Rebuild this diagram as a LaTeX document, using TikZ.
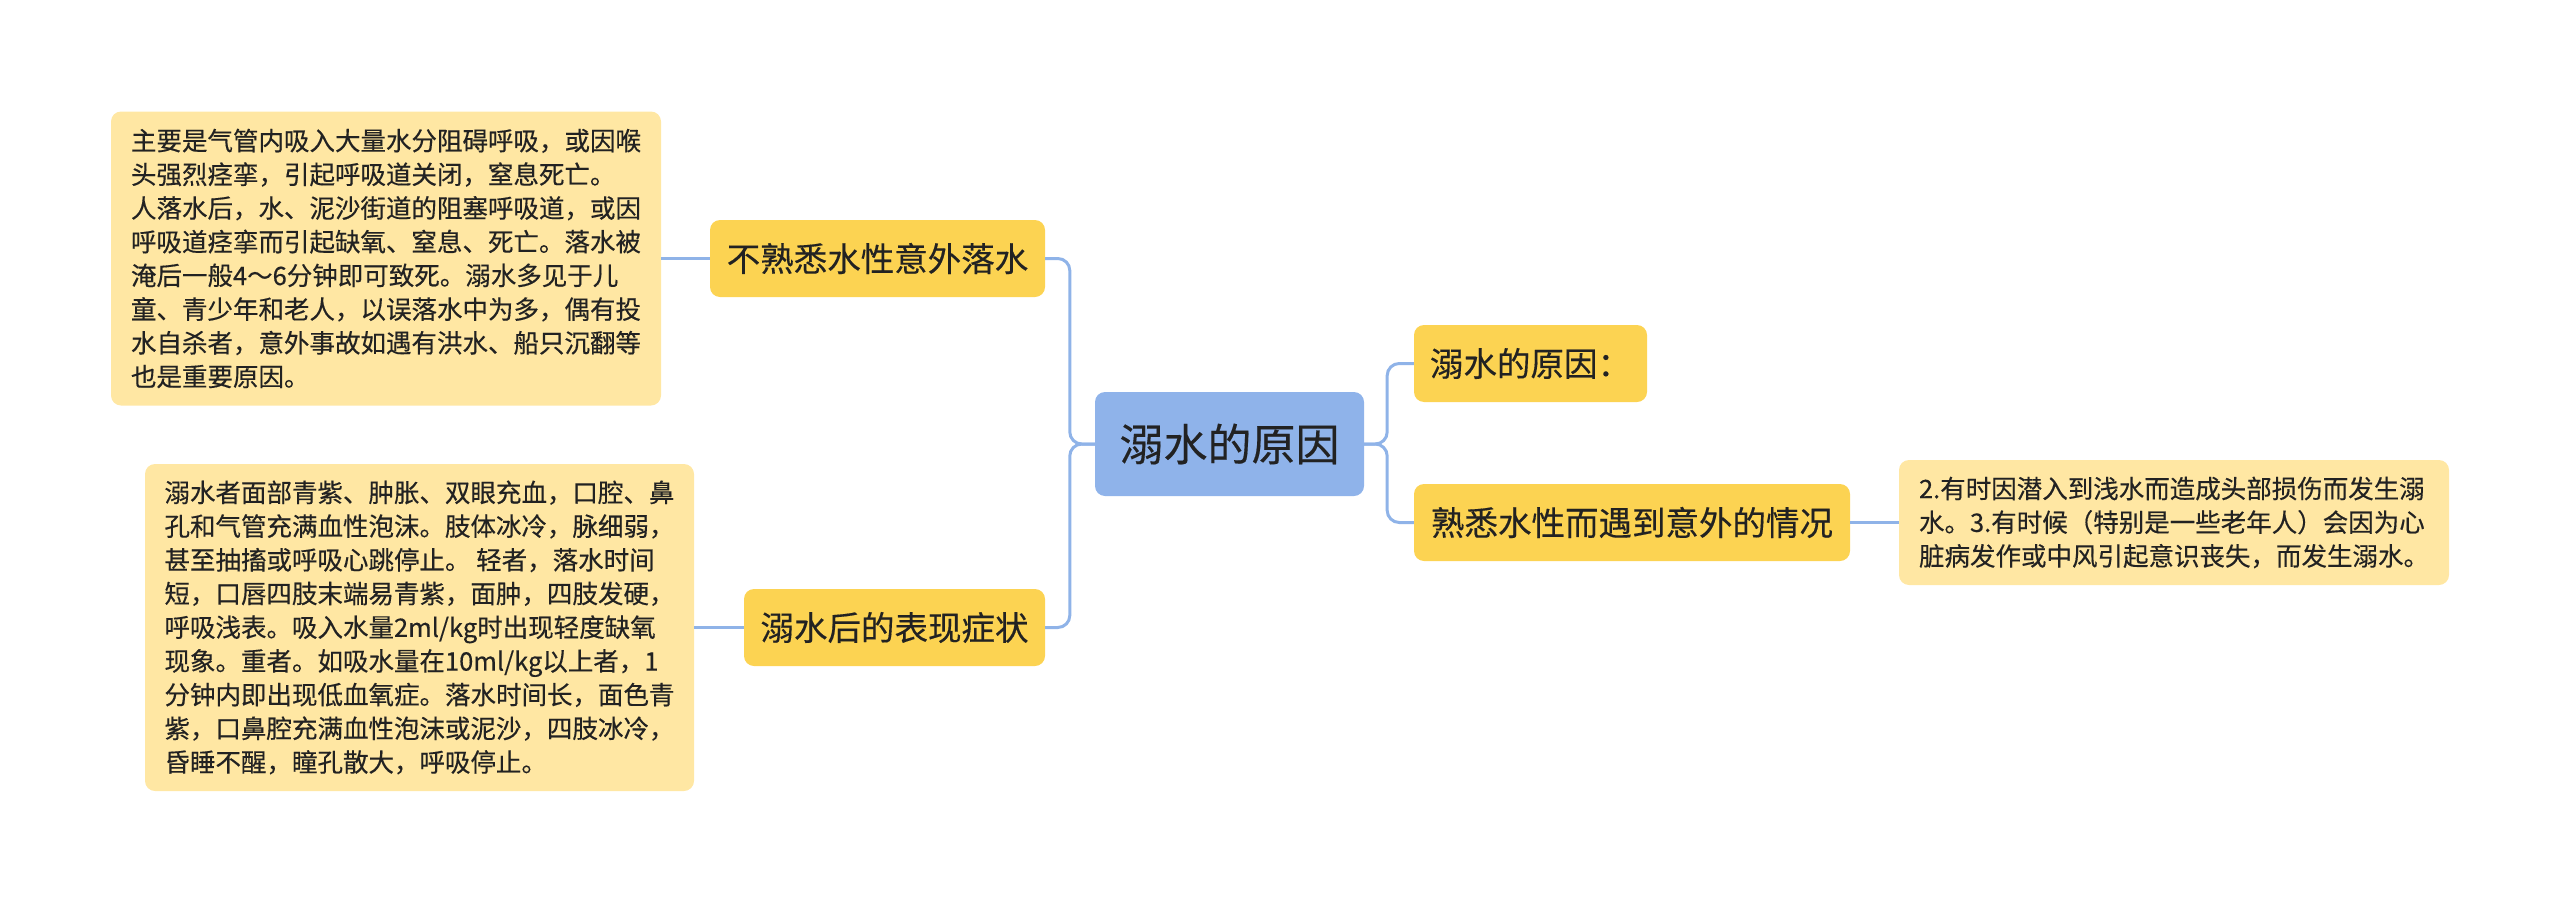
\documentclass[tikz,border=0pt]{standalone}
\usepackage{fontspec}
\setmainfont{Noto Sans CJK SC}[FakeBold=0.35]
\definecolor{linec}{HTML}{8FB3E8}
\definecolor{rootc}{HTML}{8FB3EA}
\definecolor{topicc}{HTML}{FCD352}
\definecolor{notec}{HTML}{FFE7A3}
\definecolor{txt}{HTML}{222222}
\begin{document}
\begin{tikzpicture}[x=1pt,y=-1pt,
  conn/.style={draw=linec, line width=3pt, rounded corners=12pt},
  root/.style={fill=rootc, rounded corners=10pt, minimum width=269pt, minimum height=104pt, inner sep=0pt, font=\fontsize{44}{52}\selectfont, text=txt},
  topic/.style={fill=topicc, rounded corners=10pt, minimum height=77pt, inner sep=0pt, font=\fontsize{33.5}{40}\selectfont, text=txt},
  note/.style={fill=notec, rounded corners=10pt, inner sep=0pt, align=left, font=\fontsize{25.5}{33.7}\selectfont, text=txt}]
\useasboundingbox (0,0) rectangle (2560,905);
\node[root] (root) at (1229.5,444) {溺水的原因};
\node[topic, minimum width=335pt] (t1) at (877.5,258.5) {不熟悉水性意外落水};
\node[topic, minimum width=301pt] (t2) at (894.5,627.5) {溺水后的表现症状};
\node[topic, minimum width=233pt] (t3) at (1530.5,363.5) {溺水的原因：};
\node[topic, minimum width=436pt] (t4) at (1632,522.5) {熟悉水性而遇到意外的情况};
\node[note, minimum width=550pt, minimum height=294pt] (A) at (386,258.5) {主要是气管内吸入大量水分阻碍呼吸，或因喉\\头强烈痉挛，引起呼吸道关闭，窒息死亡。\\人落水后，水、泥沙街道的阻塞呼吸道，或因\\呼吸道痉挛而引起缺氧、窒息、死亡。落水被\\淹后一般4～6分钟即可致死。溺水多见于儿\\童、青少年和老人，以误落水中为多，偶有投\\水自杀者，意外事故如遇有洪水、船只沉翻等\\也是重要原因。};
\node[note, minimum width=549pt, minimum height=327pt] (B) at (419.5,627.5) {溺水者面部青紫、肿胀、双眼充血，口腔、鼻\\孔和气管充满血性泡沫。肢体冰冷，脉细弱，\\甚至抽搐或呼吸心跳停止。 轻者，落水时间\\短，口唇四肢末端易青紫，面肿，四肢发硬，\\呼吸浅表。吸入水量2ml/kg时出现轻度缺氧\\现象。重者。如吸水量在10ml/kg以上者，1\\分钟内即出现低血氧症。落水时间长，面色青\\紫，口鼻腔充满血性泡沫或泥沙，四肢冰冷，\\昏睡不醒，瞳孔散大，呼吸停止。};
\node[note, minimum width=550pt, minimum height=125pt] (C) at (2174,522.5) {2.有时因潜入到浅水而造成头部损伤而发生溺\\水。3.有时候（特别是一些老年人）会因为心\\脏病发作或中风引起意识丧失，而发生溺水。};
\draw[conn] (root.west) -- ++(-25,0) |- (t1.east);
\draw[conn] (root.west) -- ++(-25,0) |- (t2.east);
\draw[conn] (root.east) -- ++(23,0) |- (t3.west);
\draw[conn] (root.east) -- ++(23,0) |- (t4.west);
\draw[conn] (t1.west) -- (A.east |- t1.west);
\draw[conn] (t2.west) -- (B.east |- t2.west);
\draw[conn] (t4.east) -- (C.west |- t4.east);
\end{tikzpicture}
\end{document}
